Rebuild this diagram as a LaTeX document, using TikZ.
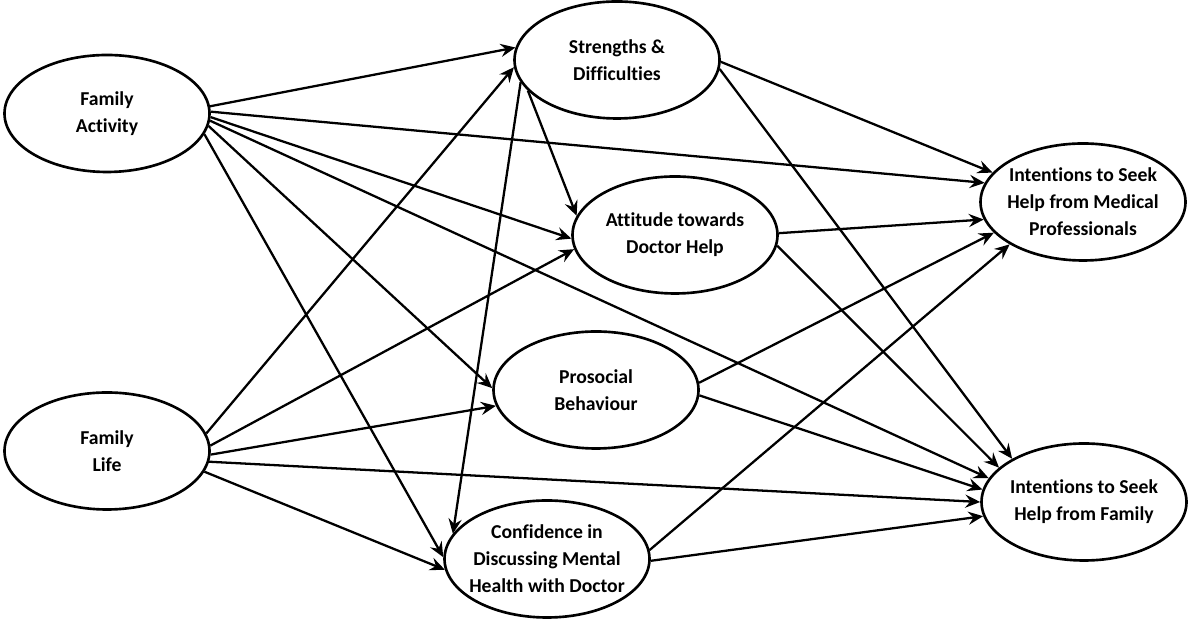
\documentclass[tikz,border=0pt]{standalone}
\usepackage{fontspec}
\setmainfont{Carlito}[Ligatures=NoCommon]
\usetikzlibrary{shapes.geometric, arrows.meta}

\begin{document}
\begin{tikzpicture}[
  latent/.style={ellipse, draw, line width=1.5pt, minimum width=4.1cm, minimum height=2.34cm, inner xsep=-2mm, inner ysep=0pt, align=center, font=\fontsize{11.2}{15.4}\selectfont\bfseries},
  path/.style={-{Stealth[length=8.5pt,width=7.5pt,inset=3pt]}, line width=1.3pt}
]
\useasboundingbox (0,0) rectangle (23.76,12.42);
\node[latent] (famact) at (2.14,10.15) {Family\\Activity};
\node[latent] (famlife) at (2.14,3.40) {Family\\Life};
\node[latent] (sdq) at (12.34,11.22) {Strengths \&\\Difficulties};
\node[latent] (attdoc) at (13.50,7.72) {Attitude towards\\Doctor Help};
\node[latent] (prosoc) at (11.92,4.62) {Prosocial\\Behaviour};
\node[latent] (confid) at (10.94,1.24) {Confidence in\\Discussing Mental\\Health with Doctor};
\node[latent] (intmed) at (21.66,8.38) {Intentions to Seek\\Help from Medical\\Professionals};
\node[latent] (intfam) at (21.68,2.38) {Intentions to Seek\\Help from Family};

\draw[path] (famact.4) -- (sdq.173);
\draw[path] (famact.1) -- (intmed.169);
\draw[path] (famact.-2) -- (attdoc.182);
\draw[path] (famact.-4) -- (intfam.166);
\draw[path] (famact.-7) -- (prosoc.179);
\draw[path] (famact.-12) -- (confid.179);

\draw[path] (famlife.10) -- (sdq.184);
\draw[path] (famlife.3) -- (attdoc.188);
\draw[path] (famlife.-2) -- (prosoc.189);
\draw[path] (famlife.-6) -- (intfam.180);
\draw[path] (famlife.-12) -- (confid.186);

\draw[path] (sdq.199) -- (attdoc.169);
\draw[path] (sdq.193) -- (confid.165);
\draw[path] (sdq.-1) -- (intmed.162);
\draw[path] (sdq.-5) -- (intfam.149);

\draw[path] (attdoc.1) -- (intmed.190);
\draw[path] (attdoc.-6) -- (intfam.158);
\draw[path] (prosoc.4) -- (intmed.199);
\draw[path] (prosoc.-3) -- (intfam.173);
\draw[path] (confid.5) -- (intmed.210);
\draw[path] (confid.-1) -- (intfam.188);
\end{tikzpicture}
\end{document}
